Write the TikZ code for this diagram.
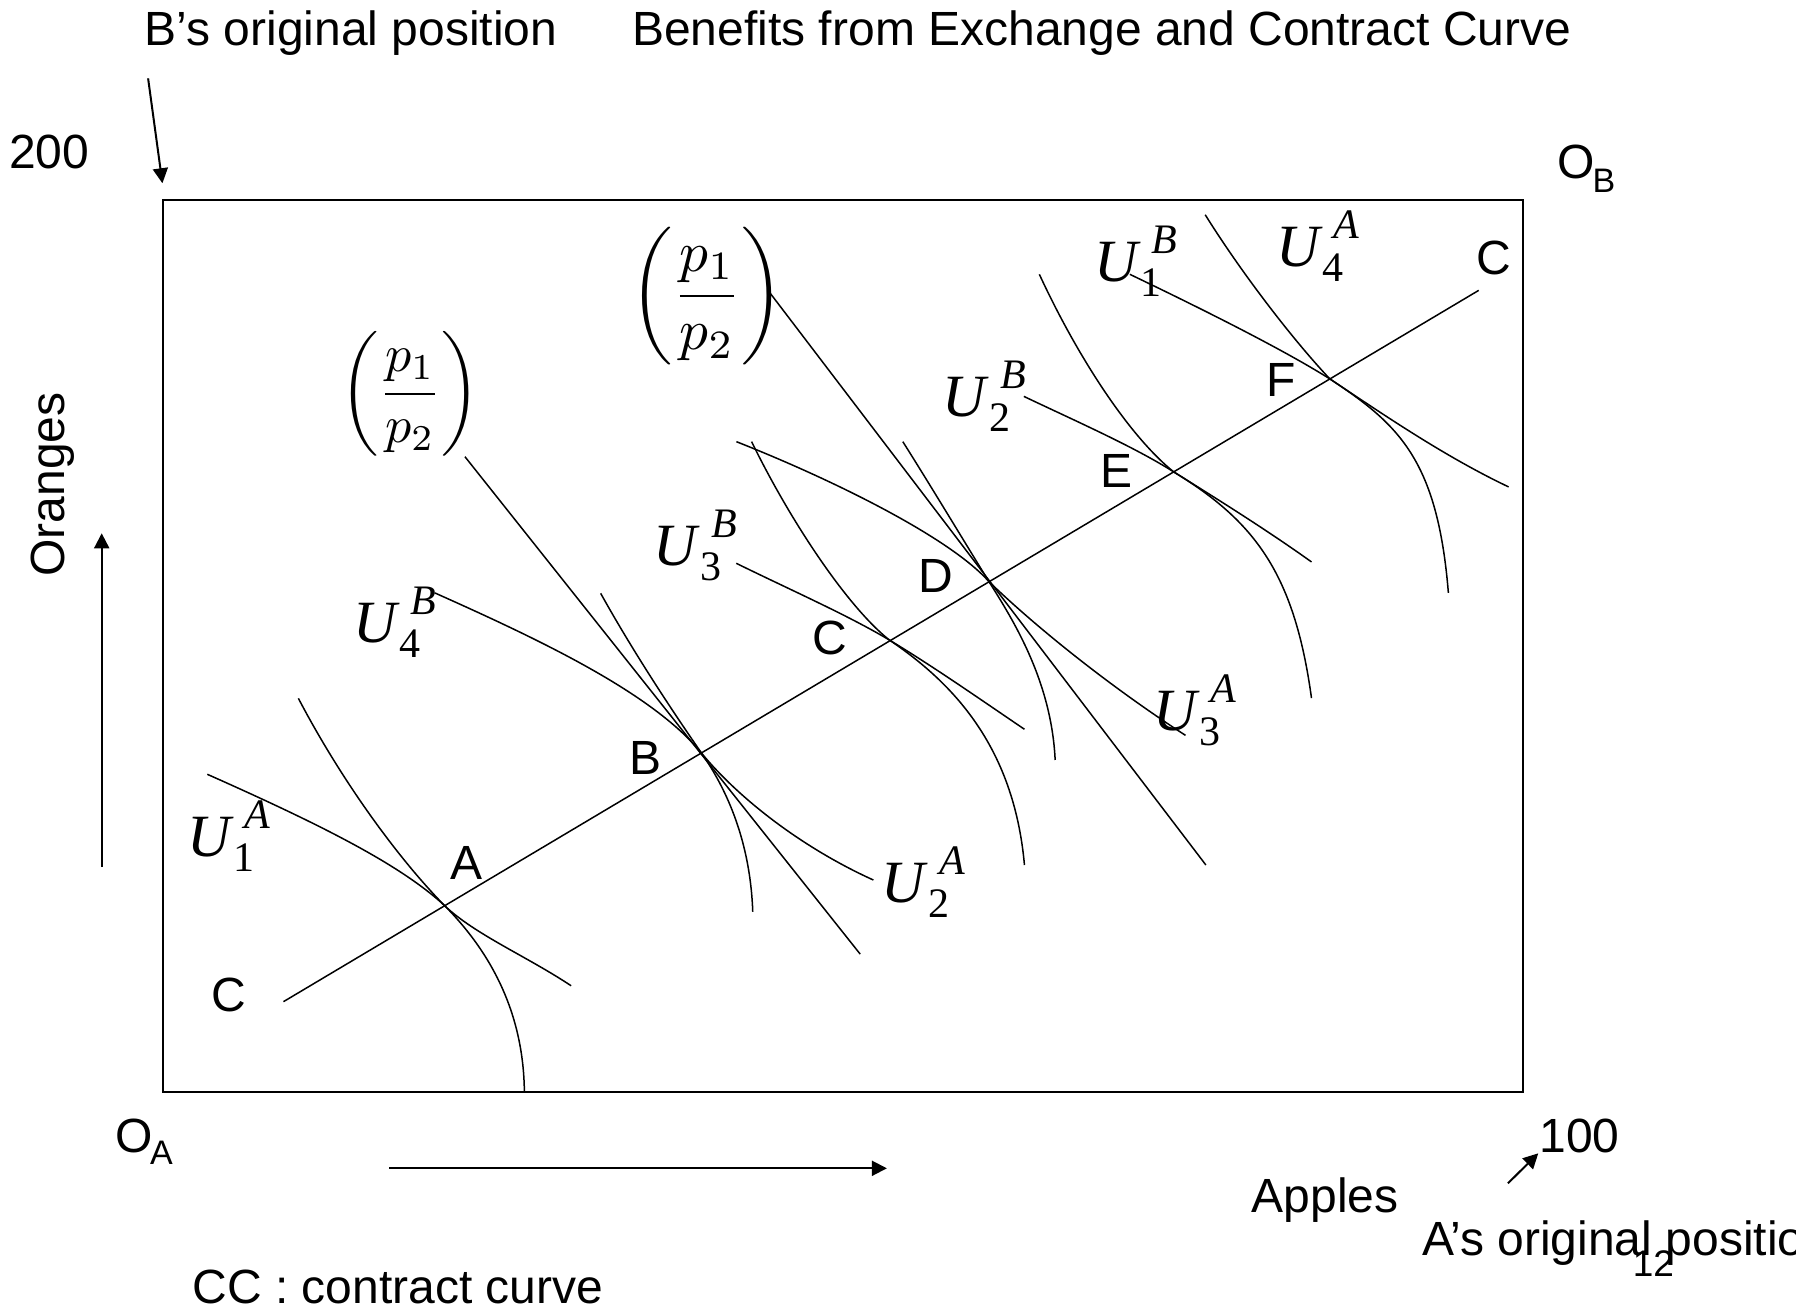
\documentclass[tikz,border=0pt]{standalone}
\usepackage[no-math]{fontspec}
\setmainfont{Liberation Sans}
\newfontfamily\tnr{Liberation Serif}
\usetikzlibrary{arrows.meta}

\newcommand{\Ulab}[2]{{\tnr\fontsize{30}{30}\selectfont\itshape U}\rlap{\kern7pt\raisebox{14pt}{\tnr\fontsize{21}{21}\selectfont\itshape #1}}\kern1.5pt\raisebox{-7.4pt}{\tnr\fontsize{21}{21}\selectfont #2}}
\newcommand{\pratio}{\normalsize$\displaystyle\left(\frac{p_1}{p_2}\right)$}

\tikzset{
  icurve/.style={line width=0.75pt, line join=round},
  frame/.style={line width=1pt},
  arr/.style={line width=1pt, -{Triangle[length=7.5pt,width=7.5pt]}},
  lab/.style={inner sep=0pt, outer sep=0pt, anchor=base west, font=\fontsize{24}{28}\selectfont},
  ulab/.style={inner sep=0pt, outer sep=0pt, anchor=base west},
  fraclab/.style={inner sep=0pt, outer sep=0pt, anchor=center},
}

\begin{document}
\begin{tikzpicture}[x=0.5727pt,y=-0.5727pt]
\useasboundingbox (0,0) rectangle (1568,1145);
\fill[white] (0,0) rectangle (1568,1145);

% Edgeworth box
\draw[frame] (142,175) rectangle (1330,953);

% texts
\node[lab] (btext) at (126.3,39.3) {B’s original position};
\node[lab] (title) at (552,39.4) {Benefits from Exchange and Contract Curve};
\node[lab] (n200) at (8,147) {200};
\node[lab] (OB) at (1360,156) {O\kern-1.3pt\raisebox{-6.9pt}{\fontsize{17}{17}\selectfont B}};
\node[lab, anchor=base, rotate=90] (oranges) at (56,423) {Oranges};
\node[lab] (OA) at (101,1006) {O\kern-1.5pt\raisebox{-6.3pt}{\fontsize{17}{17}\selectfont A}};
\node[lab] (n100) at (1344,1006.5) {100};
\node[lab] (apples) at (1093,1059) {Apples};
\node[lab] (apos) at (1241.5,1095.7) {A’s original position};
\node[lab, font=\fontsize{18.5}{20}\selectfont] (pnum) at (1425.5,1114.6) {12};
\node[lab] (cctext) at (168,1138) {CC : contract curve};

% arrows
\coordinate (bstart) at (129.3,68.4);
\coordinate (btip) at (141.8,160);
\draw[arr] (bstart) -- (btip);
\coordinate (oa1) at (88.8,757);
\coordinate (oa2) at (88.8,465.6);
\draw[arr] (oa1) -- (oa2);
\coordinate (ap1) at (339.8,1020);
\coordinate (ap2) at (774.3,1020);
\draw[arr] (ap1) -- (ap2);
\coordinate (sa1) at (1316.5,1033.1);
\coordinate (sa2) at (1343,1006.9);
\draw[arr] (sa1) -- (sa2);

% tangency points on the contract curve
\coordinate (pA) at (388.5,791);
\coordinate (pB) at (612.6,657.7);
\coordinate (pC) at (776.5,558.8);
\coordinate (pD) at (863.4,507.8);
\coordinate (pE) at (1024.7,412);
\coordinate (pF) at (1161,330.8);

% contract curve
\coordinate (cc1) at (247.5,874.5);
\coordinate (cc2) at (1291,253.5);
\draw[icurve] (cc1) -- (cc2);

% price lines
\coordinate (pl1a) at (405.9,398.7);
\coordinate (pl1b) at (751,833);
\draw[icurve] (pl1a) -- (pl1b);
\coordinate (pl2a) at (670.2,253.1);
\coordinate (pl2b) at (1052.8,755.2);
\draw[icurve] (pl2a) -- (pl2b);

% around A
\draw[icurve] (181,676) .. controls (280,720) and (350,755) .. (pA)
              .. controls (415,816) and (460,835) .. (498.6,860.6);
\draw[icurve] (260.5,609.7) .. controls (300,685) and (350,752) .. (pA)
              .. controls (425,828) and (457,880) .. (457.8,953);

% around B
\draw[icurve] (379.5,517.6) .. controls (470,558) and (570,605) .. (pB)
              .. controls (645,697) and (700,740) .. (762.5,768.3);
\draw[icurve] (524.4,518) .. controls (555,573) and (590,625) .. (pB)
              .. controls (635,690) and (655,735) .. (657.2,796);

% around C
\draw[icurve] (642.8,491.8) .. controls (690,515) and (740,537) .. (pC)
              .. controls (815,582) and (855,610) .. (894.4,636.7);
\draw[icurve] (656.2,385.6) .. controls (690,455) and (740,530) .. (pC)
              .. controls (830,595) and (885,650) .. (894.4,755.2);

% around D
\draw[icurve] (642.9,385.6) .. controls (730,420) and (830,470) .. (pD)
              .. controls (905,548) and (970,600) .. (1035,642);
\draw[icurve] (788.2,385.6) .. controls (810,420) and (845,478) .. (pD)
              .. controls (885,542) and (918,595) .. (921.2,663.5);

% around E
\draw[icurve] (893.9,346.1) .. controls (940,368) and (990,390) .. (pE)
              .. controls (1060,434) and (1105,462) .. (1145,490.6);
\draw[icurve] (907.4,239.5) .. controls (940,310) and (985,380) .. (pE)
              .. controls (1095,455) and (1130,500) .. (1145,609.5);

% around F
\draw[icurve] (986.4,239.5) .. controls (1050,270) and (1120,305) .. (pF)
              .. controls (1205,360) and (1260,398) .. (1317.1,425.1);
\draw[icurve] (1052.2,187.5) .. controls (1085,240) and (1130,298) .. (pF)
              .. controls (1220,370) and (1255,400) .. (1264.5,517.6);

% point labels
\node[lab] (lC1) at (184.3,883.5) {C};
\node[lab] (lA) at (393,768) {A};
\node[lab] (lB) at (550,676.5) {B};
\node[lab] (lC2) at (709.3,571) {C};
\node[lab] (lD) at (802,517.4) {D};
\node[lab] (lE) at (960.4,425.7) {E};
\node[lab] (lF) at (1106,346) {F};
\node[lab] (lC3) at (1289,239.5) {C};

% utility labels
\node[ulab] (u1a) at (163.6,748) {\Ulab{A}{1}};
\node[ulab] (u4b) at (308.7,561) {\Ulab{B}{4}};
\node[ulab] (u3b) at (570.9,494) {\Ulab{B}{3}};
\node[ulab] (u2a) at (769.8,788) {\Ulab{A}{2}};
\node[ulab] (u3a) at (1007,638) {\Ulab{A}{3}};
\node[ulab] (u2b) at (823,364) {\Ulab{B}{2}};
\node[ulab] (u1b) at (955.2,246) {\Ulab{B}{1}};
\node[ulab] (u4a) at (1114.4,232.5) {\Ulab{A}{4}};

% price ratio labels
\node[fraclab] (frac1) at (358,344) {\scalebox{2.6}{\pratio}};
\node[fraclab] (frac2) at (617.3,258.3) {\scalebox{2.87}{\pratio}};
\end{tikzpicture}
\end{document}
